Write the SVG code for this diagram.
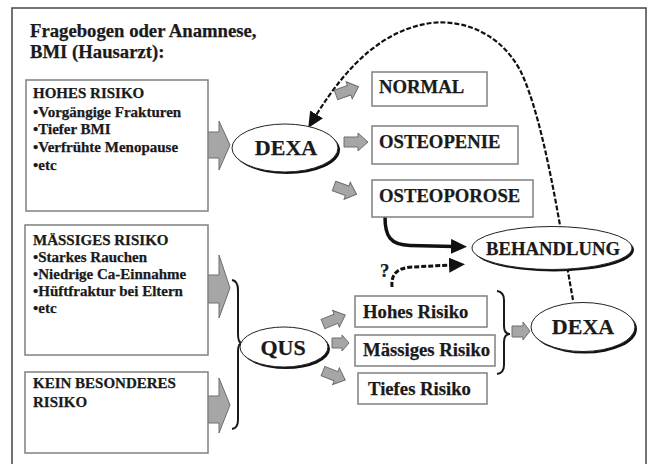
<svg xmlns="http://www.w3.org/2000/svg" width="653" height="464" viewBox="0 0 653 464">
<style>
text{font-family:'Liberation Serif','Times New Roman',Tinos,'Noto Serif','DejaVu Serif',serif;font-weight:700;fill:#1a1a1a;stroke:#1a1a1a;stroke-width:0.25}
.box{fill:#fff;stroke:#808080;stroke-width:1.5}
.sh{fill:#111}
.el{fill:#fff;stroke:#222;stroke-width:1}
.ga{fill:#a6a6a6;stroke:#6e6e6e;stroke-width:1}
.brace{fill:none;stroke:#1a1a1a;stroke-width:2}
.dash{fill:none;stroke:#111;stroke-width:2.2;stroke-dasharray:5 2}
.solid{fill:none;stroke:#111;stroke-width:3.5}
.t15{font-size:15px}
.t18{font-size:18.7px}
.t22{font-size:22px}
</style>
<defs>
<marker id="ah" markerUnits="userSpaceOnUse" markerWidth="18" markerHeight="16" refX="3" refY="7.5" orient="auto">
<path d="M0,0 L16,7.5 L0,15 Z" fill="#111"/>
</marker>
<path id="sa" d="M0,-5 L14,-5 L14,-9 L24,0 L14,9 L14,5 L0,5 Z"/>
</defs>
<rect x="12" y="8" width="634" height="480" fill="#fff" stroke="#444" stroke-width="1.5"/>
<g id="title">
<text class="t18" x="30" y="37">Fragebogen oder Anamnese,</text>
<text class="t18" x="30" y="58">BMI (Hausarzt):</text>
</g>
<g id="connectors">
<path class="dash" d="M573,300 C562,240 545,120 520,70 C497,28 455,18 425,24 C385,32 350,60 315,117" marker-end="url(#ah)"/>
<path class="solid" d="M385,217 C385,236 390,245 410,245.5 L454,246.5" marker-end="url(#ah)"/>
<path class="dash" style="stroke-width:3" d="M392,287 C391,275 396,268 412,267 L452,265" marker-end="url(#ah)"/>
<path class="ga" d="M198,132 L219,132 L219,121 L230,145 L219,170 L219,158 L198,158 Z"/>
<path class="ga" d="M198,275 L219,275 L219,255 L230,288 L219,318 L219,303 L198,303 Z"/>
<path class="ga" d="M198,396 L219,396 L219,378 L230,405 L219,433 L219,423 L198,423 Z"/>
<use href="#sa" class="ga" transform="translate(336,95) rotate(-20)"/>
<use href="#sa" class="ga" transform="translate(344,142)"/>
<use href="#sa" class="ga" transform="translate(334,186) rotate(20)"/>
<use href="#sa" class="ga" transform="translate(323,324) rotate(-22)"/>
<path class="ga" d="M332,338 L342,338 L342,335 L349,343 L342,351 L342,348 L332,348 Z"/>
<use href="#sa" class="ga" transform="translate(323,371) rotate(22)"/>
<path class="ga" d="M512,326 L523,326 L523,322 L530,331 L523,340 L523,337 L512,337 Z"/>
<path class="brace" d="M232,280 Q238,281 238,290 L238,334 Q238,343 242,343 Q238,343 238,352 L238,420 Q238,428 232,429"/>
<path class="brace" d="M497,291 Q504,292 504,300 L504,326 Q504,334 510,334 Q504,334 504,342 L504,365 Q504,373 497,374"/>
</g>
<g id="hohes-risiko">
<rect class="box" x="26" y="80" width="182" height="131"/>
<text class="t15" x="33" y="98">HOHES RISIKO</text>
<text class="t15" x="33" y="117">•Vorgängige Frakturen</text>
<text class="t15" x="33" y="134">•Tiefer BMI</text>
<text class="t15" x="33" y="152">•Verfrühte Menopause</text>
<text class="t15" x="33" y="170">•etc</text>
</g>
<g id="maessiges-risiko">
<rect class="box" x="25" y="225" width="183" height="130"/>
<text class="t15" x="33" y="245">MÄSSIGES RISIKO</text>
<text class="t15" x="33" y="262">•Starkes Rauchen</text>
<text class="t15" x="33" y="279">•Niedrige Ca-Einnahme</text>
<text class="t15" x="33" y="296">•Hüftfraktur bei Eltern</text>
<text class="t15" x="33" y="313">•etc</text>
</g>
<g id="kein-risiko">
<rect class="box" x="25" y="372" width="183" height="81"/>
<text class="t15" x="33" y="388">KEIN BESONDERES</text>
<text class="t15" x="33" y="407">RISIKO</text>
</g>
<g id="dexa1">
<ellipse class="sh" cx="287" cy="150" rx="53" ry="24"/>
<ellipse class="el" cx="285" cy="148" rx="53" ry="24"/>
<text class="t22" x="286" y="155" text-anchor="middle">DEXA</text>
</g>
<g id="normal">
<rect class="box" x="372" y="72" width="115" height="34"/>
<text class="t18" x="379" y="93">NORMAL</text>
</g>
<g id="osteopenie">
<rect class="box" x="372" y="126" width="146" height="38"/>
<text class="t18" x="379" y="148">OSTEOPENIE</text>
</g>
<g id="osteoporose">
<rect class="box" x="372" y="180" width="161" height="37"/>
<text class="t18" x="379" y="202">OSTEOPOROSE</text>
</g>
<g id="behandlung">
<ellipse class="sh" cx="554" cy="250" rx="80" ry="21.5"/>
<ellipse class="el" cx="552" cy="248" rx="80" ry="21.5"/>
<text class="t18" x="553" y="255" text-anchor="middle">BEHANDLUNG</text>
</g>
<g id="frage">
<text class="t18" x="380" y="277">?</text>
</g>
<g id="qus">
<ellipse class="sh" cx="286" cy="349" rx="44" ry="20"/>
<ellipse class="el" cx="284" cy="347" rx="44" ry="20"/>
<text class="t22" x="283" y="355" text-anchor="middle">QUS</text>
</g>
<g id="hohes">
<rect class="box" x="355" y="296" width="132" height="31"/>
<text class="t18" x="363" y="318">Hohes Risiko</text>
</g>
<g id="maessiges">
<rect class="box" x="355" y="335" width="140" height="31"/>
<text class="t18" x="363" y="356">Mässiges Risiko</text>
</g>
<g id="tiefes">
<rect class="box" x="358" y="373" width="129" height="31"/>
<text class="t18" x="368" y="395">Tiefes Risiko</text>
</g>
<g id="dexa2">
<ellipse class="sh" cx="585" cy="329" rx="52" ry="24.5"/>
<ellipse class="el" cx="583" cy="327" rx="52" ry="24.5"/>
<text class="t22" x="583" y="334" text-anchor="middle">DEXA</text>
</g>
</svg>
